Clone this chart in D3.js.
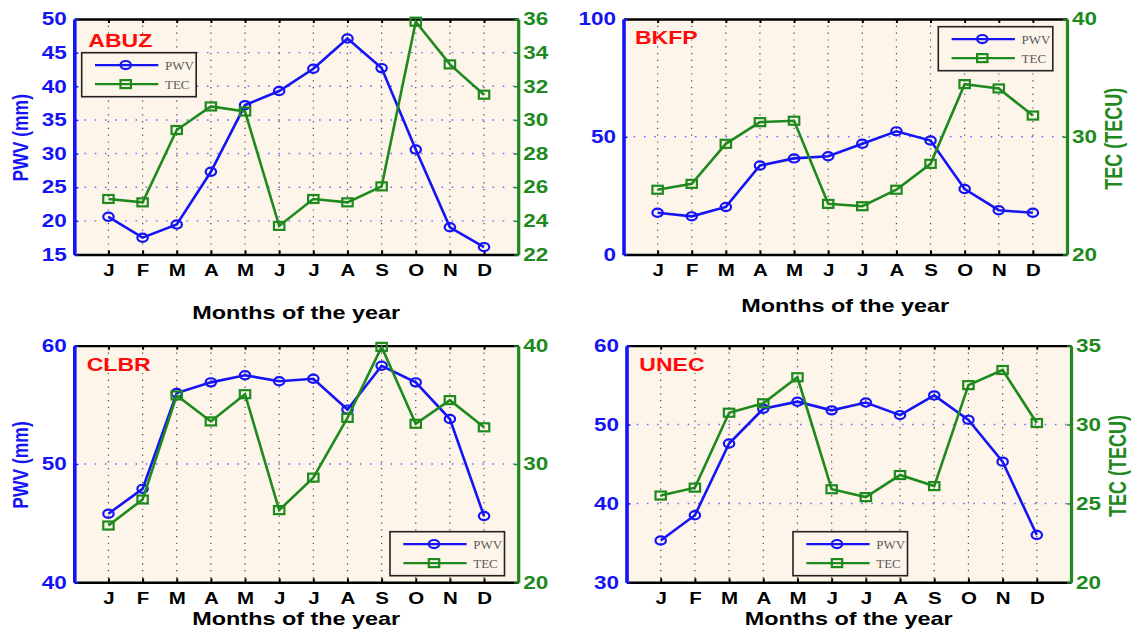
<!DOCTYPE html>
<html>
<head>
<meta charset="utf-8">
<script src="https://cdn.jsdelivr.net/npm/d3@7"></script>
<style>
  html, body { margin: 0; padding: 0; background: #ffffff; }
  svg { display: block; }
</style>
</head>
<body>
<svg id="chart" width="1131" height="630"></svg>
<script>
// ---------------- DATA ----------------
const months = ["J","F","M","A","M","J","J","A","S","O","N","D"];
const stations = ["ABUZ","BKFP","CLBR","UNEC"];
const seriesNames = ["PWV","TEC"];

const abuzPwv = [20.6, 17.5, 19.45, 27.3, 37.2, 39.3, 42.6, 47.1, 42.7, 30.6, 19.05, 16.1];
const abuzTec = [25.3, 25.1, 29.4, 30.8, 30.5, 23.7, 25.3, 25.1, 26.05, 35.84, 33.3, 31.5];
const bkfpPwv = [17.7, 16.2, 20.2, 37.8, 40.8, 41.7, 47.0, 52.3, 48.4, 27.8, 18.8, 17.7];
const bkfpTec = [25.5, 26.0, 29.4, 31.24, 31.36, 24.3, 24.1, 25.5, 27.7, 34.47, 34.1, 31.8];
const clbrPwv = [45.8, 47.9, 56.0, 56.9, 57.5, 57.0, 57.2, 54.6, 58.3, 56.9, 53.8, 45.6];
const clbrTec = [24.8, 27.0, 35.8, 33.6, 35.9, 26.1, 28.85, 33.9, 39.9, 33.4, 35.4, 33.1];
const unecPwv = [35.3, 38.5, 47.6, 52.0, 52.9, 51.8, 52.8, 51.2, 53.7, 50.6, 45.3, 36.0];
const unecTec = [25.5, 26.0, 30.75, 31.35, 33.0, 25.9, 25.4, 26.8, 26.1, 32.5, 33.46, 30.1];

const abuzPwvTicks = [15,20,25,30,35,40,45,50];
const abuzTecTicks = [22,24,26,28,30,32,34,36];
const bkfpPwvTicks = [0,50,100];
const bkfpTecTicks = [20,30,40];
const clbrPwvTicks = [40,50,60];
const clbrTecTicks = [20,30,40];
const unecPwvTicks = [30,40,50,60];
const unecTecTicks = [20,25,30,35];

const xTitle = "Months of the year";
const leftTitle = "PWV (mm)";
const rightTitle = "TEC (TECU)";

// ---------------- LAYOUT / STYLE ----------------
const BLUE = "#1414f5", GREEN = "#1e8a1e", RED = "#ff0a0a", BG = "#fdf5e9";
const FONT = "'Liberation Sans', Arial, Helvetica, sans-serif";
const SERIF = "'Liberation Serif', 'DejaVu Serif', serif";
const SX = 1.28;

const panels = [
  {name: stations[0], pwv: abuzPwv, tec: abuzTec, lt: abuzPwvTicks, rt: abuzTecTicks,
   L: 74.3, R: 518.2, T: 19, B: 254.5, legend: [81.7, 52.7], titleY: 319.3,
   showLeft: true, showRight: false, labelDy: 27.7, labelDx: 14},
  {name: stations[1], pwv: bkfpPwv, tec: bkfpTec, lt: bkfpPwvTicks, rt: bkfpTecTicks,
   L: 623.5, R: 1067, T: 19, B: 254.5, legend: [938.3, 26.7], titleY: 311.7,
   showLeft: false, showRight: true, labelDy: 25.3, labelDx: 11.5},
  {name: stations[2], pwv: clbrPwv, tec: clbrTec, lt: clbrPwvTicks, rt: clbrTecTicks,
   L: 74.3, R: 518.2, T: 345.7, B: 582.3, legend: [390, 531.7], titleY: 625,
   showLeft: true, showRight: false, labelDy: 25.3, labelDx: 12.4},
  {name: stations[3], pwv: unecPwv, tec: unecTec, lt: unecPwvTicks, rt: unecTecTicks,
   L: 626.5, R: 1071, T: 345.7, B: 582.3, legend: [793, 531.7], titleY: 625,
   showLeft: false, showRight: true, labelDy: 25.3, labelDx: 12.8}
];

const svg = d3.select("#chart");

function stretchText(g, x, y, str, opt) {
  opt = opt || {};
  return g.append("text")
    .attr("transform", `translate(${x},${y}) scale(${opt.sx || SX},1)` + (opt.rotate ? ` rotate(${opt.rotate})` : ""))
    .attr("text-anchor", opt.anchor || "start")
    .attr("font-family", opt.family || FONT)
    .attr("font-weight", opt.weight || "bold")
    .attr("font-size", opt.size || 18)
    .attr("fill", opt.fill || "#000")
    .attr("dominant-baseline", opt.baseline || "auto")
    .text(str);
}

panels.forEach(p => {
  const g = svg.append("g");
  const x = d3.scaleLinear().domain([0, 13]).range([p.L, p.R]);
  const yL = d3.scaleLinear().domain([p.lt[0], p.lt[p.lt.length - 1]]).range([p.B, p.T]);
  const yR = d3.scaleLinear().domain([p.rt[0], p.rt[p.rt.length - 1]]).range([p.B, p.T]);
  const monthIdx = d3.range(1, 13);

  // background
  g.append("rect").attr("x", p.L).attr("y", p.T)
    .attr("width", p.R - p.L).attr("height", p.B - p.T).attr("fill", BG);

  // vertical dotted grid
  g.append("g").selectAll("line").data(monthIdx).join("line")
    .attr("x1", d => x(d)).attr("x2", d => x(d))
    .attr("y1", p.T).attr("y2", p.B)
    .attr("stroke", "#444").attr("stroke-width", 1.2)
    .attr("stroke-dasharray", "1.2,5.6");

  // horizontal dotted grid (left ticks)
  g.append("g").selectAll("line").data(p.lt.slice(1, -1)).join("line")
    .attr("x1", p.L).attr("x2", p.R)
    .attr("y1", d => yL(d)).attr("y2", d => yL(d))
    .attr("stroke", "#6b6bff").attr("stroke-width", 1.4)
    .attr("stroke-dasharray", "1.6,8.6");

  // top axis (ticks only)
  const top = g.append("g").attr("transform", `translate(0,${p.T})`)
    .call(d3.axisTop(x).tickValues(monthIdx).tickSize(-4).tickSizeOuter(0).tickFormat(""));
  top.select(".domain").attr("stroke", "#000").attr("stroke-width", 2.3);
  top.selectAll(".tick line").attr("stroke", "#000").attr("stroke-width", 2);

  // bottom axis with month letters
  const bot = g.append("g").attr("transform", `translate(0,${p.B})`)
    .call(d3.axisBottom(x).tickValues(monthIdx).tickSize(-4).tickSizeOuter(0)
      .tickPadding(10).tickFormat(d => months[d - 1]));
  bot.select(".domain").attr("stroke", "#000").attr("stroke-width", 2.5);
  bot.selectAll(".tick line").attr("stroke", "#000").attr("stroke-width", 2);
  bot.selectAll(".tick text")
    .attr("font-family", FONT).attr("font-weight", "bold").attr("font-size", 16)
    .attr("fill", "#000").attr("transform", `scale(${SX},1)`);

  // left axis
  const la = g.append("g").attr("transform", `translate(${p.L},0)`)
    .call(d3.axisLeft(yL).tickValues(p.lt).tickSize(-4).tickSizeOuter(0).tickPadding(6));
  la.select(".domain").attr("stroke", BLUE).attr("stroke-width", 3.6);
  la.selectAll(".tick line").attr("stroke", BLUE).attr("stroke-width", 1.5);
  la.selectAll(".tick text")
    .attr("font-family", FONT).attr("font-weight", "bold").attr("font-size", 18)
    .attr("fill", BLUE).attr("transform", `scale(1.25,1)`);

  // right axis
  const ra = g.append("g").attr("transform", `translate(${p.R},0)`)
    .call(d3.axisRight(yR).tickValues(p.rt).tickSize(-4).tickSizeOuter(0).tickPadding(4));
  ra.select(".domain").attr("stroke", GREEN).attr("stroke-width", 3.2);
  ra.selectAll(".tick line").attr("stroke", GREEN).attr("stroke-width", 1.5);
  ra.selectAll(".tick text")
    .attr("font-family", FONT).attr("font-weight", "bold").attr("font-size", 18)
    .attr("fill", GREEN).attr("transform", `scale(1.25,1)`);

  // series
  const linePwv = d3.line().x((d, i) => x(i + 1)).y(d => yL(d));
  const lineTec = d3.line().x((d, i) => x(i + 1)).y(d => yR(d));

  g.append("path").datum(p.pwv).attr("d", linePwv)
    .attr("fill", "none").attr("stroke", BLUE).attr("stroke-width", 2.6);
  g.append("g").selectAll("ellipse").data(p.pwv).join("ellipse")
    .attr("cx", (d, i) => x(i + 1)).attr("cy", d => yL(d))
    .attr("rx", 5.2).attr("ry", 4.1)
    .attr("fill", "none").attr("stroke", BLUE).attr("stroke-width", 2.2);

  g.append("path").datum(p.tec).attr("d", lineTec)
    .attr("fill", "none").attr("stroke", GREEN).attr("stroke-width", 2.6);
  g.append("g").selectAll("rect").data(p.tec).join("rect")
    .attr("x", (d, i) => x(i + 1) - 5.2).attr("y", d => yR(d) - 4)
    .attr("width", 10.4).attr("height", 8)
    .attr("fill", "none").attr("stroke", GREEN).attr("stroke-width", 2.2);

  // station label
  stretchText(g, p.L + p.labelDx, p.T + p.labelDy, p.name, {fill: RED, size: 18});

  // legend
  const [bx, by] = p.legend;
  const lg = g.append("g");
  lg.append("rect").attr("x", bx).attr("y", by).attr("width", 114.5).attr("height", 44)
    .attr("fill", BG).attr("stroke", "#222").attr("stroke-width", 1.6);
  const items = [
    {name: seriesNames[0], color: BLUE, dy: 12.4, shape: "circle"},
    {name: seriesNames[1], color: GREEN, dy: 31.4, shape: "square"}
  ];
  items.forEach(it => {
    const yy = by + it.dy;
    lg.append("line").attr("x1", bx + 13.3).attr("x2", bx + 76.6)
      .attr("y1", yy).attr("y2", yy).attr("stroke", it.color).attr("stroke-width", 2.4);
    if (it.shape === "circle") {
      lg.append("ellipse").attr("cx", bx + 44).attr("cy", yy).attr("rx", 5.2).attr("ry", 4.1)
        .attr("fill", "none").attr("stroke", it.color).attr("stroke-width", 2.2);
    } else {
      lg.append("rect").attr("x", bx + 44 - 5.2).attr("y", yy - 4).attr("width", 10.4).attr("height", 8)
        .attr("fill", "none").attr("stroke", it.color).attr("stroke-width", 2.2);
    }
    stretchText(lg, bx + 83.3, yy + 1, it.name,
      {family: SERIF, weight: "normal", size: 12, fill: "#5a5a5a", baseline: "central", sx: 1.08});
  });

  // x title
  stretchText(g, (p.L + p.R) / 2, p.titleY, xTitle, {anchor: "middle", size: 18, sx: 1.3});

  // axis titles
  if (p.showLeft) {
    stretchText(g, 20.5, (p.T + p.B) / 2 + 1, leftTitle,
      {anchor: "middle", size: 17.5, fill: BLUE, rotate: -90, baseline: "central", sx: 1.3});
  }
  if (p.showRight) {
    stretchText(g, p.R + 47, (p.T + p.B) / 2 + 2, rightTitle,
      {anchor: "middle", size: 18, fill: GREEN, rotate: -90, baseline: "central", sx: 1.3});
  }
});
</script>
</body>
</html>
